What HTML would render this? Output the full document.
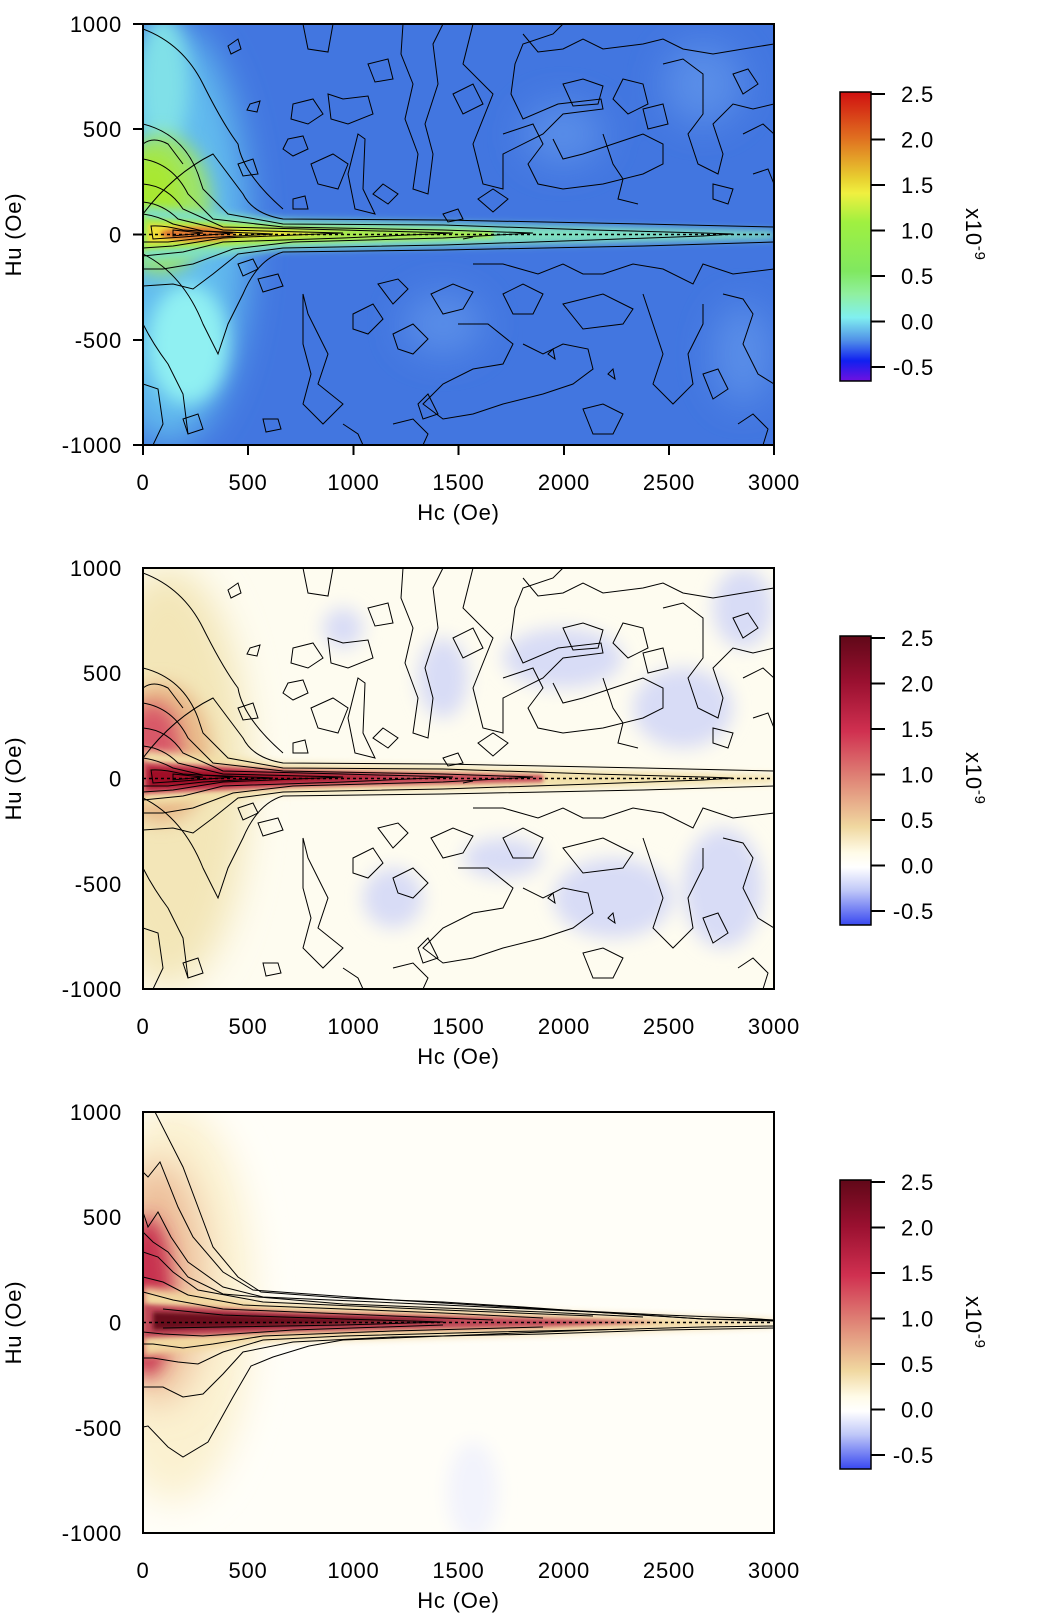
<!DOCTYPE html>
<html><head><meta charset="utf-8"><style>
html,body{margin:0;padding:0;background:#fff;}
svg{display:block;}
text{font-family:"Liberation Sans",sans-serif;font-size:22px;letter-spacing:0.8px;fill:#000;}
</style></head><body>
<svg width="1052" height="1614" viewBox="0 0 1052 1614" xmlns="http://www.w3.org/2000/svg">
<defs>
<filter id="b20" x="-50%" y="-50%" width="200%" height="200%"><feGaussianBlur stdDeviation="18"/></filter>
<filter id="b10" x="-50%" y="-50%" width="200%" height="200%"><feGaussianBlur stdDeviation="9"/></filter>
<filter id="b4" x="-50%" y="-50%" width="200%" height="200%"><feGaussianBlur stdDeviation="4"/></filter>
<filter id="b2" x="-50%" y="-50%" width="200%" height="200%"><feGaussianBlur stdDeviation="2"/></filter>
<clipPath id="cp"><rect x="0" y="0" width="631" height="421"/></clipPath>
<linearGradient id="cb1" x1="0" y1="0" x2="0" y2="1">
<stop offset="0" stop-color="#d01010"/><stop offset="0.16" stop-color="#e07020"/><stop offset="0.3" stop-color="#e8d030"/><stop offset="0.35" stop-color="#f0f040"/><stop offset="0.45" stop-color="#a0f040"/><stop offset="0.62" stop-color="#80e860"/><stop offset="0.7" stop-color="#90f0a0"/><stop offset="0.78" stop-color="#80f0f0"/><stop offset="0.86" stop-color="#5090e8"/><stop offset="0.93" stop-color="#1020f0"/><stop offset="1" stop-color="#7010e0"/></linearGradient>
<linearGradient id="cb2" x1="0" y1="0" x2="0" y2="1">
<stop offset="0" stop-color="#600818"/><stop offset="0.16" stop-color="#9a1030"/><stop offset="0.33" stop-color="#d03050"/><stop offset="0.5" stop-color="#e08878"/><stop offset="0.66" stop-color="#f0d8a0"/><stop offset="0.75" stop-color="#fffbe8"/><stop offset="0.8" stop-color="#ffffff"/><stop offset="0.88" stop-color="#c0c8f8"/><stop offset="1" stop-color="#3848f0"/></linearGradient>

<g id="blobs" fill="none" stroke="#000" stroke-width="1">
<path d="M260,0 L258,30 L270,60 L262,95 L275,130 L270,165 L285,170 L290,130 L282,100 L295,60 L290,20 L300,0"/>
<path d="M160,0 L165,25 L185,28 L190,0"/>
<path d="M85,22 L95,15 L98,25 L88,30 Z"/>
<path d="M150,80 L170,75 L180,90 L165,100 L148,95 Z"/>
<path d="M107,80 L117,77 L114,88 L104,86 Z"/>
<path d="M185,70 L200,75 L225,72 L230,90 L205,100 L188,95 Z"/>
<path d="M145,115 L160,112 L165,125 L150,132 L140,125 Z"/>
<path d="M168,140 L190,130 L205,140 L195,165 L175,160 Z"/>
<path d="M215,110 L222,115 L220,165 L232,190 L212,185 L205,150 Z"/>
<path d="M330,0 L320,40 L350,70 L330,120 L340,160 L360,165 L360,130 L400,110 L420,90 L460,85 L458,75 L415,80 L380,95 L368,70 L372,40 L380,20 L410,10 L420,0"/>
<path d="M380,10 L395,28 L420,25 L440,15 L460,25 L500,20 L520,15 L540,25 L570,30 L600,25 L631,20"/>
<path d="M310,70 L330,60 L340,80 L320,90 Z"/>
<path d="M420,60 L440,55 L460,62 L455,80 L430,82 Z"/>
<path d="M480,55 L500,60 L505,80 L485,90 L470,75 Z"/>
<path d="M360,110 L390,100 L400,120 L385,140 L395,160 L420,165 L460,160 L500,150 L520,140 L520,120 L500,110 L470,120 L440,130 L420,135 L410,115"/>
<path d="M460,110 L470,140 L480,155 L475,175 L495,180"/>
<path d="M520,40 L540,35 L560,50 L560,90 L545,110 L555,140 L575,150 L580,130 L570,100 L590,80 L610,85 L631,80"/>
<path d="M590,50 L605,45 L615,60 L600,70 Z"/>
<path d="M600,110 L620,100 L631,110"/>
<path d="M500,85 L520,80 L525,100 L505,105 Z"/>
<path d="M335,175 L350,165 L365,175 L350,188 Z"/>
<path d="M230,170 L240,160 L255,170 L245,180 Z"/>
<path d="M150,175 L162,172 L165,185 L150,185 Z"/>
<path d="M570,160 L590,165 L585,180 L570,175 Z"/>
<path d="M95,240 L110,235 L115,245 L100,252 Z"/>
<path d="M115,255 L135,250 L140,262 L120,268 Z"/>
<path d="M160,270 L165,290 L175,310 L185,330 L175,360 L200,380 L180,400 L160,380 L168,350 L160,320 Z"/>
<path d="M210,290 L230,280 L240,295 L225,310 L210,305 Z"/>
<path d="M235,260 L255,255 L265,265 L250,280 Z"/>
<path d="M250,310 L270,300 L285,315 L270,330 L255,325 Z"/>
<path d="M288,270 L310,260 L330,268 L320,285 L300,290 Z"/>
<path d="M330,240 L360,240 L395,250 L420,240 L440,250 L460,250 L490,240 L520,245 L550,260 L560,240 L590,250 L631,245"/>
<path d="M360,270 L380,260 L400,270 L390,290 L370,290 Z"/>
<path d="M420,280 L460,270 L490,285 L480,300 L440,305 Z"/>
<path d="M500,270 L510,300 L520,330 L510,360 L530,380 L550,360 L545,330 L560,300 L560,280"/>
<path d="M580,270 L600,275 L610,290 L600,320 L615,350 L631,360"/>
<path d="M315,300 L345,300 L370,320 L360,340 L330,345 L300,360 L280,380 L300,395 L330,390 L360,380 L400,370 L430,360 L450,345 L445,325 L420,320 L400,330 L380,320"/>
<path d="M440,385 L460,380 L480,390 L470,410 L450,410 Z"/>
<path d="M250,400 L270,395 L285,410 L280,421"/>
<path d="M120,395 L135,395 L138,405 L123,408 Z"/>
<path d="M200,400 L215,410 L220,421"/>
<path d="M595,400 L610,390 L625,405 L620,421"/>
<path d="M560,350 L575,345 L585,365 L570,375 Z"/>
<path d="M465,350 L470,345 L472,355 Z"/>
<path d="M405,330 L410,325 L412,335 Z"/>
<path d="M320,215 L330,213"/>
<path d="M95,140 L110,135 L115,150 L100,152 Z"/>
<path d="M0,360 L15,365 L20,400 L10,421"/>
<path d="M40,395 L55,390 L60,405 L45,410 Z"/>
<path d="M225,40 L245,35 L250,55 L232,58 Z"/>
<path d="M610,150 L625,145 L631,160"/>
<path d="M300,190 L315,185 L320,195 L305,198 Z"/>
<path d="M275,380 L285,370 L295,390 L280,395 Z"/>
</g>

<g id="ridge1" fill="none" stroke="#000" stroke-width="1">
<path d="M0,190 Q30,150 70,130 L100,170 Q110,190 140,195 L300,196 L500,200 L631,203"/>
<path d="M0,230 Q40,250 60,300 L75,330 L85,300 L100,270 Q115,235 140,228 L300,226 L500,222 L631,218"/>
<path d="M0,100 Q40,110 55,150 L60,165 L85,190 L140,200 L300,201 L450,206 L560,209 L590,210 L560,212 L450,216 L300,221 L140,224 L95,230 L70,250 L50,265 L30,260 L0,262"/>
<path d="M0,135 Q30,140 45,170 L70,195 L140,203 L300,206 L390,209 L300,214 L150,218 L90,225 L50,240 L20,245 L0,245"/>
<path d="M0,160 Q25,162 40,185 L80,203 L200,206 L310,209 L200,214 L80,218 L40,228 L0,232"/>
<path d="M0,178 Q20,180 35,195 L80,206 L200,209 L80,214 L30,222 L0,224"/>
<path d="M0,190 Q15,192 30,200 L60,207 L130,210 L60,214 L25,218 L0,218"/>
<path d="M8,202 Q20,201 40,206 L90,209 L40,213 L10,215 Z"/>
<path d="M30,206 L60,209 L30,212 Z"/>
<path d="M0,5 Q40,20 60,60 Q80,100 95,120 Q100,150 140,185"/>
<path d="M0,300 Q10,320 25,340 L40,370 L45,410"/>
<path d="M0,120 Q10,112 25,120 L40,140"/>
</g>

<g id="ridge3" fill="none" stroke="#000" stroke-width="1">
<path d="M12,0 L40,55 L55,95 L70,135 L95,165 L118,180 L200,186 L300,190 L380,195 L450,200 L500,203 L560,207 L631,208"/>
<path d="M0,60 L5,65 L17,50 L35,95 L50,125 L80,160 L110,178 L250,188 L400,197 L520,203 L600,206 L631,208"/>
<path d="M0,100 L5,115 L15,100 L28,125 L45,150 L80,175 L120,185 L300,193 L450,200 L560,207 L631,209"/>
<path d="M0,120 L10,130 L25,140 L45,165 L80,182 L200,192 L400,200 L500,205"/>
<path d="M0,140 L15,145 L30,160 L55,178 L120,190 L300,198 L450,204"/>
<path d="M0,165 L20,170 L45,183 L100,193 L300,201 L400,206"/>
<path d="M0,180 L30,188 L80,197 L250,204 L350,208"/>
<path d="M20,197 L80,203 L200,207 L300,210 L200,213 L80,215 L20,216"/>
<path d="M631,214 L560,215 L450,218 L300,224 L200,228 L166,234 L130,245 L108,254 L90,285 L65,330 L40,345 L25,335 L5,314 L0,315"/>
<path d="M631,216 L520,218 L400,222 L250,225 L150,230 L100,240 L80,262 L60,282 L40,285 L20,275 L0,275"/>
<path d="M490,217 L350,220 L200,224 L120,228 L80,240 L55,252 L35,250 L10,246 L0,246"/>
<path d="M400,215 L250,219 L120,224 L70,232 L40,236 L10,232 L0,232"/>
<path d="M300,213 L150,218 L60,224 L20,222 L0,220"/>
</g>
</defs>

<!-- PLOT 1 -->
<g transform="translate(143,24)">
<g clip-path="url(#cp)">
<rect width="631" height="421" fill="#4276e0"/>
<g fill="#5a8ee8" filter="url(#b20)">
<ellipse cx="560" cy="60" rx="40" ry="40"/><ellipse cx="420" cy="110" rx="40" ry="30"/><ellipse cx="300" cy="300" rx="40" ry="30"/><ellipse cx="600" cy="330" rx="30" ry="50"/>
</g>
<ellipse cx="25" cy="210" rx="80" ry="210" fill="#62bcee" filter="url(#b20)"/>
<ellipse cx="45" cy="320" rx="40" ry="60" fill="#90f0f2" filter="url(#b10)"/>
<ellipse cx="20" cy="60" rx="25" ry="70" fill="#80e0e8" filter="url(#b10)"/>
<ellipse cx="18" cy="180" rx="50" ry="70" fill="#9ee468" filter="url(#b10)"/>
<ellipse cx="10" cy="175" rx="28" ry="45" fill="#a8e830" filter="url(#b10)"/>
<polygon points="0,182 140,195 631,207 631,215 140,226 0,238" fill="#80e0c0" filter="url(#b4)"/>
<polygon points="0,194 150,202 350,207 350,214 150,219 0,226" fill="#a8e850" filter="url(#b2)"/>
<polygon points="5,200 100,205 200,209 100,215 5,220" fill="#f0e038" filter="url(#b2)"/>
<ellipse cx="55" cy="210" rx="38" ry="7" fill="#e07a30" filter="url(#b2)"/>
<use href="#blobs"/>
<use href="#ridge1"/>
<line x1="0" y1="210.5" x2="631" y2="210.5" stroke="#000" stroke-width="1.6" stroke-dasharray="3,3"/>
</g>
<rect width="631" height="421" fill="none" stroke="#000" stroke-width="2"/>
</g>

<!-- PLOT 2 -->
<g transform="translate(143,568)">
<g clip-path="url(#cp)">
<rect width="631" height="421" fill="#fefcf0"/>
<g fill="#d8dcf6" filter="url(#b10)">
<ellipse cx="420" cy="90" rx="60" ry="30"/><ellipse cx="540" cy="140" rx="50" ry="40"/><ellipse cx="600" cy="40" rx="30" ry="40"/>
<ellipse cx="300" cy="110" rx="25" ry="40"/><ellipse cx="470" cy="330" rx="60" ry="40"/><ellipse cx="580" cy="320" rx="40" ry="60"/>
<ellipse cx="360" cy="290" rx="40" ry="20"/><ellipse cx="250" cy="330" rx="30" ry="30"/><ellipse cx="200" cy="60" rx="20" ry="20"/>
</g>
<ellipse cx="25" cy="210" rx="80" ry="210" fill="#f3e6b8" filter="url(#b20)"/>
<ellipse cx="18" cy="185" rx="50" ry="70" fill="#e8b888" filter="url(#b10)"/>
<ellipse cx="10" cy="180" rx="28" ry="45" fill="#d85868" filter="url(#b10)"/>
<polygon points="0,182 140,195 631,207 631,215 140,226 0,238" fill="#f2e0a8" filter="url(#b4)"/>
<polygon points="0,194 150,202 400,207 400,214 150,219 0,226" fill="#c84858" filter="url(#b2)"/>
<polygon points="5,200 120,205 260,209 120,215 5,220" fill="#a01028" filter="url(#b2)"/>
<use href="#blobs"/>
<use href="#ridge1"/>
<line x1="0" y1="210.5" x2="631" y2="210.5" stroke="#000" stroke-width="1.6" stroke-dasharray="3,3"/>
</g>
<rect width="631" height="421" fill="none" stroke="#000" stroke-width="2"/>
</g>

<!-- PLOT 3 -->
<g transform="translate(143,1112)">
<g clip-path="url(#cp)">
<rect width="631" height="421" fill="#fffef8"/>
<ellipse cx="30" cy="190" rx="80" ry="200" fill="#fbf1d0" filter="url(#b20)"/>
<ellipse cx="15" cy="170" rx="45" ry="120" fill="#ecbc98" filter="url(#b20)"/>
<ellipse cx="5" cy="185" rx="25" ry="80" fill="#c83050" filter="url(#b10)"/>
<polygon points="0,175 120,190 400,200 631,208 631,214 400,222 120,230 0,245" fill="#f2d8a0" filter="url(#b4)"/>
<polygon points="0,192 150,200 400,206 520,210 400,215 150,220 0,226" fill="#c04858" filter="url(#b2)"/>
<polygon points="10,200 150,204 320,208 150,214 10,218" fill="#6a0e1c" filter="url(#b2)"/>
<ellipse cx="330" cy="380" rx="25" ry="50" fill="#f2f3fc" filter="url(#b10)"/>
<use href="#ridge3"/>
<line x1="0" y1="210.5" x2="631" y2="210.5" stroke="#000" stroke-width="1.6" stroke-dasharray="3,3"/>
</g>
<rect width="631" height="421" fill="none" stroke="#000" stroke-width="2"/>
</g>

<g id="axes" stroke="#000" stroke-width="2">
<g id="tk">
<line x1="133" y1="24" x2="143" y2="24"/><line x1="133" y1="129" x2="143" y2="129"/><line x1="133" y1="234.5" x2="143" y2="234.5"/><line x1="133" y1="340" x2="143" y2="340"/><line x1="133" y1="445" x2="143" y2="445"/>
<line x1="143" y1="445" x2="143" y2="455"/><line x1="248" y1="445" x2="248" y2="455"/><line x1="353.5" y1="445" x2="353.5" y2="455"/><line x1="458.5" y1="445" x2="458.5" y2="455"/><line x1="564" y1="445" x2="564" y2="455"/><line x1="669" y1="445" x2="669" y2="455"/><line x1="774" y1="445" x2="774" y2="455"/>
</g>
</g>
<use href="#tk" y="544"/><use href="#tk" y="1088"/>

<g id="lab1">
<g text-anchor="end">
<text x="122" y="32">1000</text><text x="122" y="137">500</text><text x="122" y="242.5">0</text><text x="122" y="348">-500</text><text x="122" y="453">-1000</text>
</g>
<g text-anchor="middle">
<text x="143" y="490">0</text><text x="248" y="490">500</text><text x="353.5" y="490">1000</text><text x="458.5" y="490">1500</text><text x="564" y="490">2000</text><text x="669" y="490">2500</text><text x="774" y="490">3000</text>
<text x="458.5" y="520">Hc (Oe)</text>
</g>
<text transform="translate(21,234.5) rotate(-90)" text-anchor="middle">Hu (Oe)</text>
</g>
<use href="#lab1" y="544"/>
<use href="#lab1" y="1088"/>

<rect x="840" y="92" width="31" height="289" fill="url(#cb1)" stroke="#000" stroke-width="1.5"/>
<g id="cbticks" stroke="#000" stroke-width="2">
<line x1="871" y1="94" x2="885" y2="94"/><line x1="871" y1="139.5" x2="885" y2="139.5"/><line x1="871" y1="185" x2="885" y2="185"/><line x1="871" y1="230.5" x2="885" y2="230.5"/><line x1="871" y1="276" x2="885" y2="276"/><line x1="871" y1="321.5" x2="885" y2="321.5"/><line x1="871" y1="367" x2="885" y2="367"/>
</g>
<g id="cblab">
<g text-anchor="end">
<text x="934" y="102">2.5</text><text x="934" y="147.5">2.0</text><text x="934" y="193">1.5</text><text x="934" y="238.5">1.0</text><text x="934" y="284">0.5</text><text x="934" y="329.5">0.0</text><text x="934" y="375">-0.5</text>
</g>
<text transform="translate(966,208) rotate(90)">x10<tspan dy="-9" font-size="15">-9</tspan></text>
</g>
<rect x="840" y="636" width="31" height="289" fill="url(#cb2)" stroke="#000" stroke-width="1.5"/>
<use href="#cbticks" y="544"/><use href="#cblab" y="544"/>
<rect x="840" y="1180" width="31" height="289" fill="url(#cb2)" stroke="#000" stroke-width="1.5"/>
<use href="#cbticks" y="1088"/><use href="#cblab" y="1088"/>
</svg>
</body></html>
